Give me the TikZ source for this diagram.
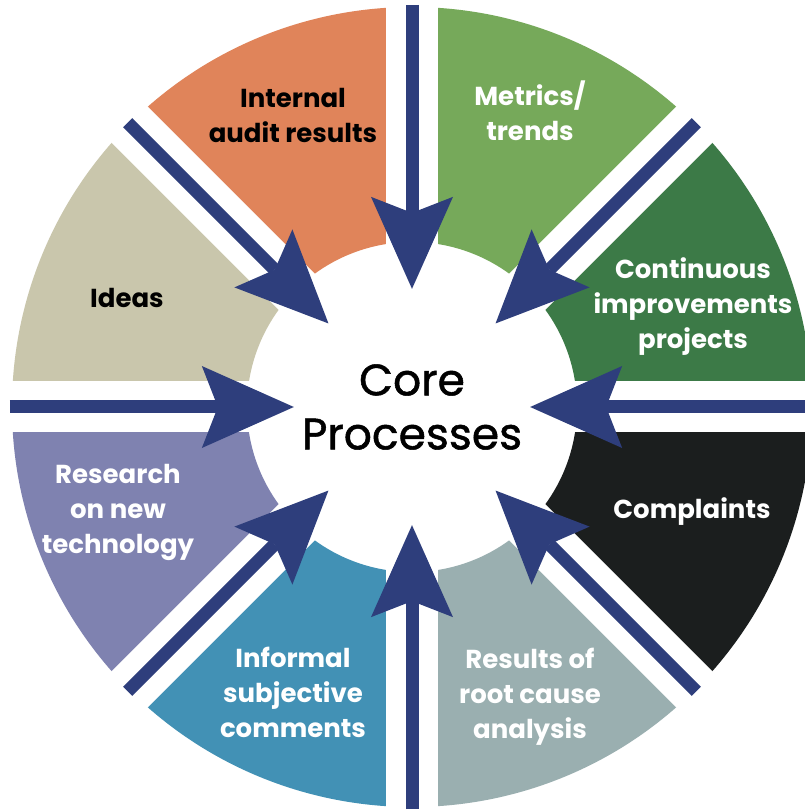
\documentclass[tikz,border=0pt]{standalone}
\usepackage{fontspec}
\setmainfont{Poppins}
\newfontfamily\corefont[FakeBold=1.2]{Poppins}
\usetikzlibrary{arrows.meta}

\definecolor{auditorange}{RGB}{224,132,90}
\definecolor{metricsgreen}{RGB}{118,169,90}
\definecolor{projectgreen}{RGB}{60,122,71}
\definecolor{complaintblack}{RGB}{27,30,30}
\definecolor{rootgray}{RGB}{154,175,176}
\definecolor{informalteal}{RGB}{66,145,181}
\definecolor{researchblue}{RGB}{127,130,176}
\definecolor{ideasbeige}{RGB}{201,198,172}
\definecolor{spokenavy}{RGB}{46,62,124}

\begin{document}
\begin{tikzpicture}[
  x=1pt, y=1pt,
  gap/.style={draw=white, line width=51pt},
  spoke/.style={draw=spokenavy, line width=13pt,
    -{Stealth[length=92pt, width=82pt, inset=16pt, line width=0pt, fill=spokenavy]}},
  seglabel/.style={font=\fontsize{26}{35}\selectfont\bfseries, align=center},
  darktext/.style={seglabel, text=black},
  lighttext/.style={seglabel, text=white},
  core/.style={circle, minimum size=206pt, inner sep=0pt, align=center,
    font=\corefont\fontsize{44}{54}\selectfont}
]
  \useasboundingbox[fill=white] (-412,-404) rectangle (392,407);

  % ring segments
  \fill[metricsgreen] (45:165) arc[start angle=45, end angle=90, radius=165] -- (90:400) arc[start angle=90, end angle=45, radius=400] -- cycle;
  \fill[auditorange] (90:165) arc[start angle=90, end angle=135, radius=165] -- (135:400) arc[start angle=135, end angle=90, radius=400] -- cycle;
  \fill[ideasbeige] (135:165) arc[start angle=135, end angle=180, radius=165] -- (180:400) arc[start angle=180, end angle=135, radius=400] -- cycle;
  \fill[researchblue] (180:165) arc[start angle=180, end angle=225, radius=165] -- (225:400) arc[start angle=225, end angle=180, radius=400] -- cycle;
  \fill[informalteal] (225:165) arc[start angle=225, end angle=270, radius=165] -- (270:400) arc[start angle=270, end angle=225, radius=400] -- cycle;
  \fill[rootgray] (270:165) arc[start angle=270, end angle=315, radius=165] -- (315:400) arc[start angle=315, end angle=270, radius=400] -- cycle;
  \fill[complaintblack] (315:165) arc[start angle=315, end angle=360, radius=165] -- (360:400) arc[start angle=360, end angle=315, radius=400] -- cycle;
  \fill[projectgreen] (0:165) arc[start angle=0, end angle=45, radius=165] -- (45:400) arc[start angle=45, end angle=0, radius=400] -- cycle;

  % white gaps between segments
  \draw[gap] (0:410) -- (180:410);
  \draw[gap] (45:410) -- (225:410);
  \draw[gap] (90:410) -- (270:410);
  \draw[gap] (135:410) -- (315:410);

  \node[core] (core) at (0,0) {Core\\Processes};

  \node[darktext] (audit) at (-119,292) {Internal\\audit results};
  \node[lighttext] (metrics) at (118,296) {Metrics/\\trends};
  \node[lighttext] (projects) at (281,100) {Continuous\\improvements\\projects};
  \node[lighttext] (complaints) at (280,-105) {Complaints};
  \node[lighttext] (rootcause) at (118,-290) {Results of\\root cause\\analysis};
  \node[lighttext] (informal) at (-119,-285) {Informal\\subjective\\comments};
  \node[lighttext] (research) at (-294,-105) {Research\\on new\\technology};
  \node[darktext] (ideas) at (-285,109) {Ideas};

  \coordinate (rimE) at (0:402);
  \coordinate (rimNE) at (45:402);
  \coordinate (rimN) at (90:402);
  \coordinate (rimNW) at (135:402);
  \coordinate (rimW) at (180:402);
  \coordinate (rimSW) at (225:402);
  \coordinate (rimS) at (270:402);
  \coordinate (rimSE) at (315:402);

  \draw[spoke] (rimE) -- (core);
  \draw[spoke] (rimNE) -- (core);
  \draw[spoke] (rimN) -- (core);
  \draw[spoke] (rimNW) -- (core);
  \draw[spoke] (rimW) -- (core);
  \draw[spoke] (rimSW) -- (core);
  \draw[spoke] (rimS) -- (core);
  \draw[spoke] (rimSE) -- (core);
\end{tikzpicture}
\end{document}
